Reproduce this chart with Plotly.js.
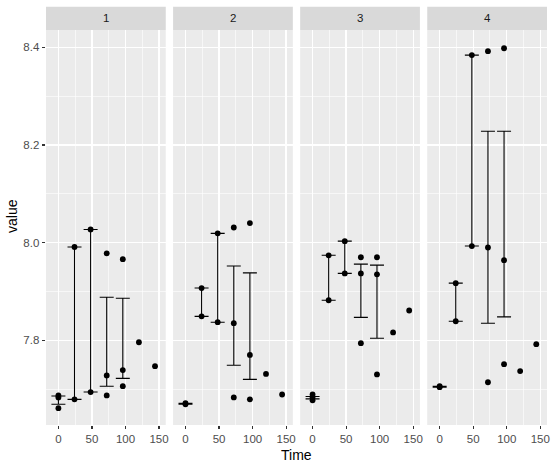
<!DOCTYPE html>
<html>
<head>
<meta charset="utf-8">
<script src="https://cdn.plot.ly/plotly-3.0.1.min.js"></script>
<style>html,body{margin:0;padding:0;background:#fff;}#chart{width:552px;height:469px;}</style>
</head>
<body>
<div id="chart"></div>
<script>
// ---- data ----
const panels = ["1", "2", "3", "4"];
const xTickVals = [0, 50, 100, 150];
const xTickText = ["0", "50", "100", "150"];
const yTickVals = [7.8, 8.0, 8.2, 8.4];
const yTickText = ["7.8", "8.0", "8.2", "8.4"];

// individual observations per panel
const p1X = [0, 0, 0, 24, 24, 48, 48, 72, 72, 72, 96, 96, 96, 120, 144];
const p1Y = [7.687, 7.683, 7.661, 7.991, 7.679, 8.027, 7.694, 7.978, 7.728, 7.687, 7.966, 7.739, 7.706, 7.796, 7.747];
const p2X = [0, 0, 24, 24, 48, 48, 72, 72, 72, 96, 96, 96, 120, 144];
const p2Y = [7.671, 7.669, 7.907, 7.849, 8.019, 7.837, 8.031, 7.835, 7.683, 8.040, 7.770, 7.679, 7.731, 7.689];
const p3X = [0, 0, 0, 24, 24, 48, 48, 72, 72, 72, 96, 96, 96, 120, 144];
const p3Y = [7.689, 7.683, 7.677, 7.974, 7.882, 8.003, 7.937, 7.970, 7.937, 7.794, 7.970, 7.935, 7.730, 7.816, 7.861];
const p4X = [0, 0, 24, 24, 48, 48, 72, 72, 72, 96, 96, 96, 120, 144];
const p4Y = [7.706, 7.704, 7.917, 7.839, 8.384, 7.993, 8.392, 7.990, 7.714, 8.398, 7.964, 7.751, 7.737, 7.792];

// summary error bars (mean +/- se) per panel
const e1X = [0, 24, 48, 72, 96];
const e1Lo = [7.669, 7.679, 7.694, 7.706, 7.722];
const e1Hi = [7.686, 7.991, 8.027, 7.888, 7.886];
const e2X = [0, 24, 48, 72, 96];
const e2Lo = [7.669, 7.849, 7.837, 7.749, 7.720];
const e2Hi = [7.671, 7.907, 8.019, 7.952, 7.938];
const e3X = [0, 24, 48, 72, 96];
const e3Lo = [7.680, 7.882, 7.937, 7.847, 7.804];
const e3Hi = [7.685, 7.974, 8.003, 7.956, 7.954];
const e4X = [0, 24, 48, 72, 96];
const e4Lo = [7.704, 7.839, 7.993, 7.835, 7.848];
const e4Hi = [7.706, 7.917, 8.384, 8.228, 8.228];

const pointsX = [p1X, p2X, p3X, p4X];
const pointsY = [p1Y, p2Y, p3Y, p4Y];
const ebX = [e1X, e2X, e3X, e4X];
const ebLo = [e1Lo, e2Lo, e3Lo, e4Lo];
const ebHi = [e1Hi, e2Hi, e3Hi, e4Hi];

// ---- layout constants ----
const FONT = "Liberation Sans, Arial, sans-serif";
const W = 552, H = 469;
const mL = 46, mR = 5, mT = 30, mB = 44;
const plotW = W - mL - mR, plotH = H - mT - mB;
const panelW = 119.75, gap = 7.33;
const stripH = 23.3;

const traces = [];
const layout = {
  width: W, height: H,
  margin: {l: mL, r: mR, t: mT, b: mB, pad: 0},
  paper_bgcolor: "#ffffff",
  plot_bgcolor: "#EBEBEB",
  showlegend: false,
  font: {family: FONT, size: 11, color: "#4D4D4D"},
  shapes: [],
  annotations: []
};

const yAx = {
  range: [7.6265, 8.4354],
  tickvals: yTickVals, ticktext: yTickText,
  showgrid: true, gridcolor: "#FFFFFF", gridwidth: 1.3,
  minor: {dtick: 0.1, tick0: 7.7, showgrid: true, gridcolor: "#FFFFFF", gridwidth: 0.6, ticklen: 0},
  zeroline: false, showline: false,
  ticks: "outside", ticklen: 3.4, tickwidth: 1.1, tickcolor: "#333333",
  tickfont: {family: FONT, size: 11.5, color: "#4D4D4D"},
  domain: [0, 1], anchor: "x", fixedrange: true
};
layout.yaxis = yAx;

panels.forEach((p, i) => {
  const x0 = (i * (panelW + gap)) / plotW;
  const x1 = Math.min(1, (i * (panelW + gap) + panelW) / plotW);
  const axName = i === 0 ? "xaxis" : "xaxis" + (i + 1);
  const axRef = i === 0 ? "x" : "x" + (i + 1);
  layout[axName] = {
    domain: [x0, x1], anchor: "y",
    range: [-18.5, 160],
    tickvals: xTickVals, ticktext: xTickText,
    showgrid: true, gridcolor: "#FFFFFF", gridwidth: 1.3,
    minor: {dtick: 25, tick0: 0, showgrid: true, gridcolor: "#FFFFFF", gridwidth: 0.6, ticklen: 0},
    zeroline: false, showline: false,
    ticks: "outside", ticklen: 3.4, tickwidth: 1.1, tickcolor: "#333333",
    tickfont: {family: FONT, size: 11.5, color: "#4D4D4D"},
    fixedrange: true
  };
  // error bars
  traces.push({
    type: "scatter", mode: "markers",
    x: ebX[i], y: ebLo[i],
    xaxis: axRef, yaxis: "y",
    marker: {size: 1, color: "rgba(0,0,0,0)"},
    error_y: {
      type: "data", symmetric: false,
      array: ebHi[i].map((h, k) => h - ebLo[i][k]),
      arrayminus: ebLo[i].map(() => 0),
      width: 7, thickness: 1.1, color: "#000000"
    },
    hoverinfo: "skip"
  });
  // points
  traces.push({
    type: "scatter", mode: "markers",
    x: pointsX[i], y: pointsY[i],
    xaxis: axRef, yaxis: "y",
    marker: {size: 5.8, color: "#000000"},
    cliponaxis: false
  });
  // strip
  layout.shapes.push({
    type: "rect", xref: "paper", yref: "paper",
    x0: x0, x1: x1, y0: 1, y1: 1 + stripH / plotH,
    fillcolor: "#D9D9D9", line: {width: 0}, layer: "below"
  });
  layout.annotations.push({
    xref: "paper", yref: "paper",
    x: (x0 + x1) / 2, y: 1 + stripH / 2 / plotH,
    xanchor: "center", yanchor: "middle",
    text: p, showarrow: false,
    font: {family: FONT, size: 11.5, color: "#1A1A1A"}
  });
});

// axis titles
layout.annotations.push({
  xref: "paper", yref: "paper",
  x: 0.5, y: (mT + plotH - 455) / plotH,
  xanchor: "center", yanchor: "middle",
  text: "Time", showarrow: false,
  font: {family: FONT, size: 14, color: "#000000"}
});
layout.annotations.push({
  xref: "paper", yref: "paper",
  x: (12 - mL) / plotW, y: (mT + plotH - 216) / plotH,
  xanchor: "center", yanchor: "middle",
  text: "value", showarrow: false, textangle: -90,
  font: {family: FONT, size: 14, color: "#000000"}
});

Plotly.newPlot("chart", traces, layout, {staticPlot: true, displayModeBar: false});
</script>
</body>
</html>
